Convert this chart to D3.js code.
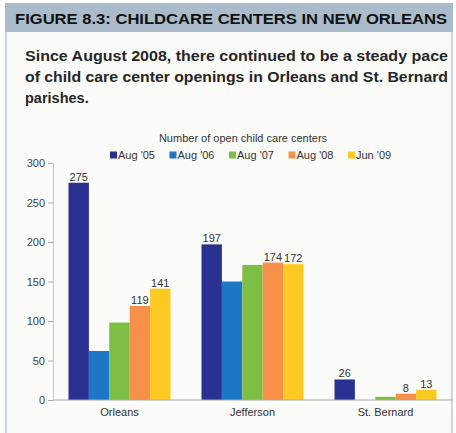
<!DOCTYPE html>
<html>
<head>
<meta charset="utf-8">
<script src="https://cdn.jsdelivr.net/npm/d3@7"></script>
<style>
  html, body { margin: 0; padding: 0; background: #ffffff; }
  svg { display: block; font-family: "Liberation Sans", Arial, sans-serif; }
</style>
</head>
<body>
<svg id="chart" width="456" height="433"></svg>
<script>
// Parishes and survey dates
const parishes = ["Orleans", "Jefferson", "St. Bernard"];
const periods = ["Aug '05", "Aug '06", "Aug '07", "Aug '08", "Jun '09"];
const periodColors = ["#2b3190", "#1c77c6", "#7cbf44", "#f7914a", "#ffc923"];

// Number of open child care centers, one array per parish (ordered by period)
const orleansValues = [275, 62, 98, 119, 141];
const jeffersonValues = [197, 150, 171, 174, 172];
const stBernardValues = [26, 0, 4, 8, 13];

// Which bars carry a value label
const orleansLabeled = [true, false, false, true, true];
const jeffersonLabeled = [true, false, false, true, true];
const stBernardLabeled = [true, false, false, true, true];

const yTicks = [0, 50, 100, 150, 200, 250, 300];

const headerText = "FIGURE 8.3: CHILDCARE CENTERS IN NEW ORLEANS";
const subtitleLines = [
  "Since August 2008, there continued to be a steady pace",
  "of child care center openings in Orleans and St. Bernard",
  "parishes."
];
const chartTitle = "Number of open child care centers";

const valuesByParish = [orleansValues, jeffersonValues, stBernardValues];
const labeledByParish = [orleansLabeled, jeffersonLabeled, stBernardLabeled];
const rows = parishes.flatMap((p, i) =>
  periods.map((per, j) => ({
    parish: p, period: per, value: valuesByParish[i][j],
    labeled: labeledByParish[i][j], color: periodColors[j]
  }))
);

const svg = d3.select("#chart");

// Panel background and frame
svg.append("rect").attr("x", 6).attr("y", 30).attr("width", 446).attr("height", 410)
  .attr("fill", "#fbfbf9").attr("stroke", "#b7c8d6").attr("stroke-width", 1.5);

// Header band
svg.append("rect").attr("x", 5).attr("y", 3).attr("width", 448).attr("height", 29)
  .attr("fill", "#aabccb");
svg.append("text").attr("x", 15).attr("y", 24)
  .attr("font-size", 14).attr("font-weight", "bold").attr("fill", "#111")
  .attr("textLength", 432).attr("lengthAdjust", "spacingAndGlyphs")
  .text(headerText);

// Subtitle
const subW = [423, 423, null];
svg.append("g").selectAll("text").data(subtitleLines).join("text")
  .attr("x", 25).attr("y", (d, i) => 61 + i * 21)
  .attr("font-size", 14.5).attr("font-weight", "bold").attr("fill", "#262626")
  .each(function (d, i) {
    if (subW[i]) d3.select(this).attr("textLength", subW[i]).attr("lengthAdjust", "spacingAndGlyphs");
  })
  .text(d => d);

// Chart title
svg.append("text").attr("x", 243).attr("y", 142).attr("text-anchor", "middle")
  .attr("font-size", 11).attr("fill", "#333").text(chartTitle);

// Legend
const legend = svg.append("g").attr("transform", "translate(110,151)");
const li = legend.selectAll("g").data(periods).join("g")
  .attr("transform", (d, i) => `translate(${i * 59.5},0)`);
li.append("rect").attr("width", 7).attr("height", 7).attr("y", 0.5)
  .attr("fill", (d, i) => periodColors[i]);
li.append("text").attr("x", 8).attr("y", 8).attr("font-size", 11).attr("fill", "#333")
  .text(d => d);

// Scales
const x0 = d3.scaleBand().domain(parishes).range([53, 452]).paddingInner(0.233).paddingOuter(0.1165);
const x1 = d3.scaleBand().domain(periods).range([0, x0.bandwidth()]);
const y = d3.scaleLinear().domain([0, 300]).range([400, 163]);

// Y axis
const yAxis = svg.append("g").attr("transform", "translate(53,0)")
  .call(d3.axisLeft(y).tickValues(yTicks).tickSize(5).tickPadding(3));
yAxis.select(".domain").attr("stroke", "#c8c8c8");
yAxis.selectAll(".tick line").attr("stroke", "#aaa");
yAxis.selectAll(".tick text").attr("font-size", 11).attr("fill", "#444")
  .attr("font-family", "Liberation Sans, Arial, sans-serif");

// Bars
const groups = svg.append("g").selectAll("g").data(parishes).join("g")
  .attr("transform", d => `translate(${x0(d)},0)`);
groups.selectAll("rect").data(p => rows.filter(r => r.parish === p)).join("rect")
  .attr("x", d => x1(d.period)).attr("width", x1.bandwidth())
  .attr("y", d => y(d.value)).attr("height", d => y(0) - y(d.value))
  .attr("fill", d => d.color);

groups.selectAll("text").data(p => rows.filter(r => r.parish === p && r.labeled)).join("text")
  .attr("x", d => x1(d.period) + x1.bandwidth() / 2)
  .attr("y", d => y(d.value) - 2)
  .attr("text-anchor", "middle").attr("font-size", 11).attr("fill", "#333")
  .text(d => d.value);

// X axis baseline and category labels
const xAxis = svg.append("g").attr("transform", "translate(0,400)")
  .call(d3.axisBottom(x0).tickSize(0).tickPadding(8));
xAxis.select(".domain").attr("stroke", "#aaa").attr("d", "M53,0H453");
xAxis.selectAll(".tick text").attr("font-size", 11).attr("fill", "#333")
  .attr("font-family", "Liberation Sans, Arial, sans-serif");
</script>
</body>
</html>
